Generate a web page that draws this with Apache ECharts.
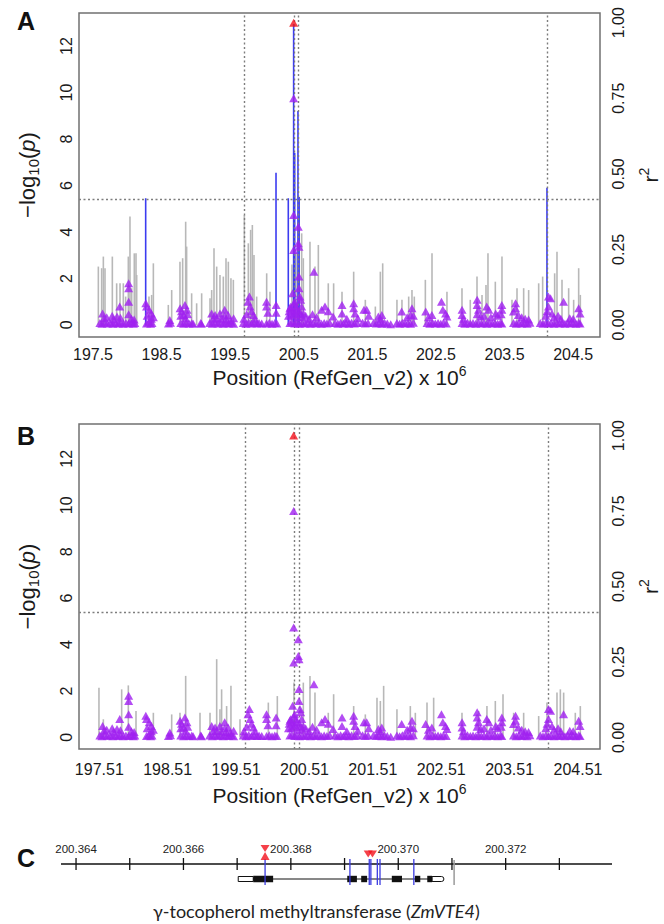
<!DOCTYPE html>
<html><head><meta charset="utf-8">
<script src="https://cdn.jsdelivr.net/npm/echarts@6/dist/echarts.min.js"></script>
<style>html,body{margin:0;padding:0;background:#fff}#c{width:664px;height:924px}</style>
</head><body><div id="c"></div>
<script>
// ---------------- data ----------------
const A_X_TICKS = [197.5, 198.5, 199.5, 200.5, 201.5, 202.5, 203.5, 204.5];
const B_X_TICKS = [197.51, 198.51, 199.51, 200.51, 201.51, 202.51, 203.51, 204.51];
const P_TICKS = [0, 2, 4, 6, 8, 10, 12];
const R2_TICKS = [0, 0.25, 0.5, 0.75, 1];
const THRESHOLD = 5.4;
const A_DOTTED = [199.70, 200.43, 200.488, 204.118];
const B_DOTTED = [199.72, 200.43, 200.50, 204.133];
const LEAD = [[200.425, 1.0]];

// -log10(p), panel A (grey: non-significant, blue: highlighted)
const GRAY_A = [
 [197.578,2.51],[197.626,2.44],[197.651,2.94],[197.675,2.44],[197.782,2.94],[197.845,1.79],[197.894,1.79],[197.942,1.79],[197.976,1.22],[198.015,2.94],[198.039,4.66],[198.064,1.58],[198.102,3.08],[198.127,3.08],[198.137,2.15],
 [198.316,1.22],[198.355,1.29],[198.380,2.65],[198.598,0.86],[198.647,1.5],[198.768,2.72],[198.807,2.87],[198.851,4.44],[198.865,3.37],[198.938,1.36],[199.011,0.93],[199.084,1.36],
 [199.206,1.15],[199.230,1.5],[199.264,3.30],[199.303,2.51],[199.351,2.15],[199.400,2.08],[199.439,2.87],[199.473,2.72],[199.511,2.01],[199.546,1.94],
 [199.706,4.73],[199.764,3.51],[199.798,4.09],[199.823,4.30],[199.847,3.01],[199.886,1.22],[200.032,2.22],[200.080,1.43],
 [200.40,2.6],[200.46,3.1],[200.542,3.94],[200.566,2.87],[200.663,3.58],[200.736,2.51],[200.785,3.44],[200.930,1.79],
 [201.008,1.79],[201.130,1.43],[201.300,2.29],[201.470,1.08],[201.616,0.79],[201.689,2.29],[201.723,2.65],[201.931,1.08],[202.004,1.08],[202.102,1.22],[202.150,1.5],[202.184,1.22],[202.345,1.94],[202.442,3.08],[202.660,1.43],
 [202.879,1.58],[203.000,1.08],[203.098,2.08],[203.171,1.29],[203.229,1.72],[203.258,3.08],[203.365,1.86],[203.462,2.94],[203.608,1.08],[203.681,1.58],[203.778,1.58],[203.851,1.5],[203.997,1.79],[204.055,2.08],[204.230,2.22],[204.264,3.15],[204.337,1.94],[204.434,1.58],[204.507,1.08],[204.580,2.44],[204.604,1.29]
];
const BLUE_A = [[198.268,5.45],[200.168,6.55],[200.347,5.45],[200.425,12.95],[200.440,7.4],[200.488,9.2],[200.505,5.5],[204.118,5.9]];

// -log10(p), panel B
const GRAY_B = [
 [197.587,2.14],[197.651,0.78],[197.918,2.07],[198.015,2.24],[198.127,1.14],[198.380,1.06],[198.647,0.99],[198.768,1.06],[198.851,2.65],[199.060,1.06],[199.206,1.06],[199.303,3.37],[199.351,1.21],[199.375,2.07],[199.448,1.35],[199.511,2.22],[199.643,0.78],
 [200.056,1.50],[200.187,1.78],[200.430,2.36],[200.566,2.36],[200.663,2.65],[200.736,1.93],[200.930,1.06],
 [201.008,1.86],[201.300,1.35],[201.470,0.99],[201.640,1.71],[201.689,1.57],[201.737,2.22],[201.931,1.21],[202.126,1.35],[202.199,1.06],[202.369,1.50],[202.466,1.71],[202.879,1.06],[203.122,1.14],[203.243,1.35],[203.365,1.57],[203.477,1.86],[203.632,1.06],[203.778,1.06],[203.997,0.92],[204.118,1.50],[204.264,1.93],[204.313,2.07],[204.361,1.93],[204.531,1.06],[204.604,1.35]
];

// LD (r^2 with lead SNP), shown as triangles in A and B
const LD_LEFT = [
 [197.60,.006],[197.63,.004],[197.67,.008],[197.71,.005],[197.75,.007],[197.79,.004],[197.83,.006],[197.87,.005],[197.90,.008],[197.94,.004],[197.98,.006],[198.02,.005],[198.06,.007],[198.09,.004],[198.11,.006],
 [197.64,.038],[197.66,.022],[197.70,.025],[197.78,.030],[197.80,.019],[197.85,.028],[197.89,.061],[197.90,.024],[198.02,.138],[198.02,.121],[198.02,.077],[198.02,.035],[198.06,.020],[198.10,.018],
 [198.28,.005],[198.31,.008],[198.34,.004],[198.36,.006],[198.27,.072],[198.28,.061],[198.29,.030],[198.32,.050],[198.35,.038],[198.38,.025],[198.35,.020],
 [198.60,.005],[198.63,.007],[198.62,.016],
 [198.78,.006],[198.82,.004],[198.86,.007],[198.90,.005],[198.94,.006],[198.96,.004],[198.77,.055],[198.79,.045],[198.84,.066],[198.87,.050],[198.82,.033],[198.78,.030],[198.85,.022],[198.88,.035],
 [199.07,.006],[199.08,.004],
 [199.20,.006],[199.24,.004],[199.28,.008],[199.32,.005],[199.36,.007],[199.40,.004],[199.44,.006],[199.48,.005],[199.52,.007],[199.55,.004],[199.23,.038],[199.28,.033],[199.35,.038],[199.42,.050],[199.47,.033],[199.55,.022],[199.25,.020],[199.30,.022],[199.37,.020],[199.42,.030],[199.44,.018],[199.50,.015]
];
const LD_MID = [
 [199.69,.006],[199.73,.004],[199.77,.008],[199.81,.005],[199.85,.007],[199.89,.005],[199.92,.006],[199.96,.005],[200.03,.005],[200.07,.007],[200.11,.004],[200.15,.006],[200.18,.005],
 [199.78,.094],[199.76,.077],[199.79,.061],[199.81,.045],[199.84,.033],[199.74,.035],[199.70,.020],[199.86,.020],[200.03,.077],[200.03,.061],[200.05,.040],[200.17,.066],[200.17,.040],
 [200.37,.006],[200.40,.008],[200.44,.005],[200.47,.007],[200.51,.004],[200.55,.006],[200.59,.005],[200.63,.007],[200.67,.004],[200.71,.006],[200.75,.005],[200.79,.007],[200.83,.004],[200.87,.006],[200.91,.005],[200.95,.007],
 [200.425,.75],[200.425,.364],[200.425,.248],[200.41,.105],[200.44,.077],[200.493,.325],[200.493,.270],[200.503,.259],[200.503,.160],[200.503,.121],[200.517,.094],[200.527,.083],[200.542,.061],[200.469,.050],[200.566,.038],[200.721,.176],[200.833,.050],[200.882,.061],[200.930,.045],
 [200.35,.030],[200.36,.045],[200.37,.055],[200.38,.060],[200.40,.050],[200.42,.035],[200.43,.070],[200.46,.060],[200.51,.045],[200.53,.035],[200.55,.025],[200.39,.030],[200.45,.040],[200.48,.025],[200.60,.030],[200.65,.020],[200.70,.035],[200.76,.025]
];
const LD_RIGHT = [
 [201.03,.006],[201.07,.004],[201.11,.007],[201.15,.005],[201.19,.006],[201.23,.004],[201.27,.007],[201.31,.005],[201.35,.006],[201.43,.007],[201.47,.005],[201.51,.006],[201.59,.007],[201.63,.005],[201.67,.006],[201.71,.004],[201.75,.007],[201.79,.005],[201.84,.002],
 [201.00,.028],[201.13,.066],[201.13,.038],[201.30,.072],[201.30,.055],[201.32,.038],[201.45,.050],[201.49,.050],[201.66,.028],[201.71,.033],[201.20,.020],[201.52,.030],[201.69,.020],[201.36,.022],
 [201.93,.006],[201.97,.004],[202.01,.007],[202.05,.005],[202.09,.006],[202.13,.004],[202.17,.007],[202.00,.044],[202.15,.055],[202.13,.033],[202.08,.025],[202.17,.030],
 [202.37,.006],[202.41,.004],[202.45,.007],[202.49,.005],[202.53,.006],[202.57,.004],[202.61,.007],[202.65,.005],[202.35,.044],[202.44,.033],[202.58,.077],[202.64,.038],[202.66,.028],[202.60,.050],[202.39,.025],
 [202.88,.006],[202.92,.004],[202.96,.007],[203.00,.005],[203.04,.006],[203.08,.004],[203.12,.007],[203.16,.005],[203.20,.006],[203.24,.004],[203.28,.007],[203.32,.005],[203.36,.006],[203.40,.004],[203.44,.007],[203.46,.005],
 [202.88,.050],[202.88,.033],[203.10,.083],[203.10,.066],[203.12,.050],[203.24,.061],[203.27,.050],[203.37,.038],[203.46,.066],[203.46,.050],[202.90,.020],[203.10,.035],[203.15,.028],[203.20,.030],[203.30,.025],[203.40,.030],[203.45,.035],
 [203.63,.006],[203.67,.004],[203.71,.007],[203.75,.005],[203.79,.006],[203.83,.004],[203.87,.007],[203.66,.072],[203.66,.055],[203.63,.044],[203.70,.033],[203.75,.025],[203.80,.020],[203.85,.018],
 [204.02,.006],[204.06,.004],[204.10,.007],[204.14,.005],[204.18,.006],[204.22,.004],[204.26,.007],[204.30,.005],[204.34,.006],[204.38,.004],[204.42,.007],[204.46,.005],[204.50,.006],[204.54,.004],[204.58,.007],[204.60,.005],
 [204.14,.094],[204.17,.088],[204.14,.061],[204.19,.038],[204.36,.077],[204.58,.055],[204.60,.038],[204.10,.030],[204.12,.045],[204.22,.025],[204.28,.030],[204.32,.020],[204.45,.022],[204.50,.020]
];

// Panel C: gene model of ZmVTE4 (positions in Mb)
const C_RULER = [200.36372, 200.37398];
const C_TICKS = [200.364, 200.365, 200.366, 200.367, 200.368, 200.369, 200.370, 200.371, 200.372, 200.373];
const C_LABELS = [200.364, 200.366, 200.368, 200.370, 200.372];
const C_GENE = [200.36702, 200.37085];
const C_UTR = [[200.36702, 200.36730], [200.37063, 200.37085]];
const C_CDS = [[200.36730, 200.36767], [200.36905, 200.36923], [200.36931, 200.36942], [200.36988, 200.37007], [200.37031, 200.37041], [200.37054, 200.37063]];
const C_SNPS = [200.36752, 200.36910, 200.36946, 200.36949, 200.36961, 200.36966, 200.37029];
const C_GREY_MARK = [200.37104];
const C_RED_HOURGLASS = [200.36752];
const C_RED_DOWN = [200.36944, 200.36952];

// ---------------- layout / style ----------------
const FONT = "'Liberation Sans', Arial, sans-serif";
const TXT = '#1a1a1a';
const A_X = [197.296, 204.891];
const B_LABEL_X = [197.213, 204.832];
const A_Y = [-0.52, 13.42];
const B_Y = [-0.5, 13.5];
const R2_FULL = 13; // r^2 = 1 drawn at the height of -log10(p) = 13
const PURPLE = '#a020f0', RED = '#f2101c', GREY = '#b8b8b8', BLUE = '#3c3cf0';
const LD_ALL = LD_LEFT.concat(LD_MID, LD_RIGHT);

const chart = echarts.init(document.getElementById('c'), null, {renderer: 'svg'});

function stems(data, xi, yi, color, width, z) {
  return {
    type: 'custom', xAxisIndex: xi, yAxisIndex: yi, data: data, silent: true, z: z,
    renderItem: function (params, api) {
      const x = api.value(0), v = api.value(1);
      const a = api.coord([x, 0]), b = api.coord([x, v]);
      return {type: 'line', shape: {x1: a[0], y1: a[1], x2: b[0], y2: b[1]}, style: {stroke: color, lineWidth: width}};
    }
  };
}
function dotted(xs, xi, yi) {
  return {
    type: 'custom', xAxisIndex: xi, yAxisIndex: yi, data: [], silent: true, z: 3,
    renderItem: function () { return null; },
    markLine: {
      silent: true, symbol: ['none', 'none'], label: {show: false}, animation: false,
      lineStyle: {color: '#7d7d7d', width: 1.4, type: [2, 2.5]},
      data: xs.map(function (x) { return {xAxis: x}; }).concat([{yAxis: THRESHOLD}])
    }
  };
}
function ld(xi, yi) {
  return {type: 'scatter', xAxisIndex: xi, yAxisIndex: yi, data: LD_ALL, symbol: 'triangle', symbolSize: [9, 8],
    itemStyle: {color: PURPLE}, silent: true, z: 5};
}
function lead(xi, yi) {
  return {type: 'scatter', xAxisIndex: xi, yAxisIndex: yi, data: LEAD, symbol: 'triangle', symbolSize: [9, 8],
    itemStyle: {color: RED}, silent: true, z: 6};
}
const yName = '{m|\u2212log}{s|10}{m|(}{i|p}{m|)}';
const nameRich = {
  m: {fontFamily: FONT, fontSize: 22, color: TXT, lineHeight: 28},
  s: {fontFamily: FONT, fontSize: 15, color: TXT, lineHeight: 16, verticalAlign: 'bottom'},
  i: {fontFamily: FONT, fontSize: 22, color: TXT, lineHeight: 28, fontStyle: 'italic'},
  u: {fontFamily: FONT, fontSize: 14, color: TXT, lineHeight: 14, verticalAlign: 'top'},
  x: {fontFamily: FONT, fontSize: 21, color: TXT, lineHeight: 26}
};
function leftAxis(gi, range) {
  return {type: 'value', gridIndex: gi, min: range[0], max: range[1], position: 'left',
    axisLine: {show: false}, axisTick: {show: false}, splitLine: {show: false},
    axisLabel: {customValues: P_TICKS, rotate: 90, margin: 5, fontSize: 16, fontFamily: FONT, color: TXT},
    name: yName, nameLocation: 'middle', nameRotate: 90, nameGap: 38, nameTextStyle: {rich: nameRich}};
}
function rightAxis(gi, range) {
  return {type: 'value', gridIndex: gi, min: range[0] / R2_FULL, max: range[1] / R2_FULL, position: 'right',
    axisLine: {show: false}, axisTick: {show: false}, splitLine: {show: false},
    axisLabel: {customValues: R2_TICKS, rotate: 90, margin: 10, fontSize: 16, fontFamily: FONT, color: TXT,
      formatter: function (v) { return v.toFixed(2); }},
    name: '{x|r}{u|2}', nameLocation: 'middle', nameRotate: 90, nameGap: 37, nameTextStyle: {rich: nameRich}};
}
const xName = '{x|Position (RefGen_v2) x 10}{u|6}';

// panel C renderers (y axis of grid C is in px below grid top)
const RULER_Y = 28, TICK_HALF = 6, LABEL_Y = 13, GENE_Y = 43;
function cSeries(data, render, z) {
  return {type: 'custom', xAxisIndex: 3, yAxisIndex: 4, data: data, silent: true, z: z || 2, renderItem: render};
}

const option = {
  animation: false,
  backgroundColor: '#fff',
  grid: [
    {left: 79, top: 13, width: 521, height: 324, show: true, borderColor: '#707070', borderWidth: 1.5, backgroundColor: 'transparent', containLabel: false, outerBoundsMode: 'none'},
    {left: 79, top: 424, width: 521, height: 325, show: true, borderColor: '#707070', borderWidth: 1.5, backgroundColor: 'transparent', containLabel: false, outerBoundsMode: 'none'},
    {left: 61, top: 836, width: 551, height: 56, show: false, containLabel: false, outerBoundsMode: 'none'}
  ],
  xAxis: [
    {type: 'value', gridIndex: 0, min: A_X[0], max: A_X[1], axisLine: {show: false}, axisTick: {show: false}, splitLine: {show: false},
      axisLabel: {customValues: A_X_TICKS, margin: 9, fontSize: 16, fontFamily: FONT, color: TXT, formatter: function (v) { return v.toFixed(1); }},
      name: xName, nameLocation: 'middle', nameGap: 27, nameTextStyle: {rich: nameRich}},
    {type: 'value', gridIndex: 1, min: A_X[0], max: A_X[1], position: 'bottom', show: false},
    {type: 'value', gridIndex: 1, min: B_LABEL_X[0], max: B_LABEL_X[1], position: 'bottom', axisLine: {show: false}, axisTick: {show: false}, splitLine: {show: false},
      axisLabel: {customValues: B_X_TICKS, margin: 12, fontSize: 16, fontFamily: FONT, color: TXT, formatter: function (v) { return v.toFixed(2); }},
      name: xName, nameLocation: 'middle', nameGap: 33, nameTextStyle: {rich: nameRich}},
    {type: 'value', gridIndex: 2, min: C_RULER[0], max: C_RULER[1], show: false}
  ],
  yAxis: [
    leftAxis(0, A_Y), rightAxis(0, A_Y), leftAxis(1, B_Y), rightAxis(1, B_Y),
    {type: 'value', gridIndex: 2, min: 0, max: 56, inverse: true, show: false}
  ],
  graphic: [
    {type: 'text', x: 17, y: 21, style: {text: 'A', font: 'bold 25px ' + FONT, fill: '#111', verticalAlign: 'middle'}},
    {type: 'text', x: 17, y: 436, style: {text: 'B', font: 'bold 25px ' + FONT, fill: '#111', verticalAlign: 'middle'}},
    {type: 'text', x: 17, y: 858, style: {text: 'C', font: 'bold 25px ' + FONT, fill: '#111', verticalAlign: 'middle'}},
    {type: 'text', x: 153, y: 911, style: {
      text: '{n|\u03b3-tocopherol methyltransferase (}{i|ZmVTE4}{n|)}', verticalAlign: 'middle',
      rich: {n: {fontFamily: 'Lato', fontSize: 18, fill: '#222'}, i: {fontFamily: 'Lato', fontSize: 18, fill: '#222', fontStyle: 'italic'}}
    }}
  ],
  series: [
    // panel A
    stems(GRAY_A, 0, 0, GREY, 1.6, 2),
    stems(BLUE_A, 0, 0, BLUE, 1.6, 3),
    dotted(A_DOTTED, 0, 0),
    ld(0, 1), lead(0, 1),
    // panel B
    stems(GRAY_B, 1, 2, GREY, 1.6, 2),
    dotted(B_DOTTED, 1, 2),
    ld(1, 3), lead(1, 3),
    // panel C: ruler
    cSeries([C_RULER], function (p, api) {
      const a = api.coord([api.value(0), RULER_Y]), b = api.coord([api.value(1), RULER_Y]);
      return {type: 'line', shape: {x1: a[0], y1: a[1], x2: b[0], y2: b[1]}, style: {stroke: '#111', lineWidth: 1.3}};
    }),
    cSeries(C_TICKS.map(function (v) { return [v]; }), function (p, api) {
      const a = api.coord([api.value(0), RULER_Y - TICK_HALF]), b = api.coord([api.value(0), RULER_Y + TICK_HALF]);
      return {type: 'line', shape: {x1: a[0], y1: a[1], x2: b[0], y2: b[1]}, style: {stroke: '#111', lineWidth: 1.3}};
    }),
    cSeries(C_LABELS.map(function (v) { return [v]; }), function (p, api) {
      const a = api.coord([api.value(0), LABEL_Y]);
      return {type: 'text', x: a[0], y: a[1], style: {text: api.value(0).toFixed(3), font: '11.5px ' + FONT, fill: '#222', align: 'center', verticalAlign: 'middle'}};
    }),
    // gene backbone
    cSeries([C_GENE], function (p, api) {
      const a = api.coord([api.value(0), GENE_Y]), b = api.coord([api.value(1), GENE_Y]);
      return {type: 'line', shape: {x1: a[0], y1: a[1], x2: b[0], y2: b[1]}, style: {stroke: '#111', lineWidth: 1}};
    }),
    cSeries(C_UTR, function (p, api) {
      const a = api.coord([api.value(0), GENE_Y - 2.5]), b = api.coord([api.value(1), GENE_Y + 2.5]);
      return {type: 'rect', shape: {x: a[0], y: a[1], width: b[0] - a[0], height: b[1] - a[1], r: p.dataIndex === 1 ? [0, 2.5, 2.5, 0] : 0},
        style: {fill: '#fff', stroke: '#111', lineWidth: 1}};
    }, 3),
    cSeries(C_CDS, function (p, api) {
      const a = api.coord([api.value(0), GENE_Y - 3.2]), b = api.coord([api.value(1), GENE_Y + 3.2]);
      return {type: 'rect', shape: {x: a[0], y: a[1], width: b[0] - a[0], height: b[1] - a[1]}, style: {fill: '#111'}};
    }, 3),
    cSeries(C_SNPS.map(function (v) { return [v]; }), function (p, api) {
      const a = api.coord([api.value(0), 23]), b = api.coord([api.value(0), 49]);
      return {type: 'line', shape: {x1: a[0], y1: a[1], x2: b[0], y2: b[1]}, style: {stroke: '#3b3be0', lineWidth: 1.3}};
    }, 4),
    cSeries(C_GREY_MARK.map(function (v) { return [v]; }), function (p, api) {
      const a = api.coord([api.value(0), 24]), b = api.coord([api.value(0), 49]);
      return {type: 'line', shape: {x1: a[0], y1: a[1], x2: b[0], y2: b[1]}, style: {stroke: '#9a9a9a', lineWidth: 1.5}};
    }, 4),
    {type: 'scatter', xAxisIndex: 3, yAxisIndex: 4, symbol: 'triangle', symbolSize: [9, 7], symbolRotate: 180, silent: true, z: 6,
      itemStyle: {color: RED}, data: C_RED_HOURGLASS.map(function (v) { return [v, 12.5]; }).concat(C_RED_DOWN.map(function (v) { return [v, 18]; }))},
    {type: 'scatter', xAxisIndex: 3, yAxisIndex: 4, symbol: 'triangle', symbolSize: [9, 8], silent: true, z: 6,
      itemStyle: {color: RED}, data: C_RED_HOURGLASS.map(function (v) { return [v, 20]; })}
  ]
};
chart.setOption(option);
</script></body></html>
